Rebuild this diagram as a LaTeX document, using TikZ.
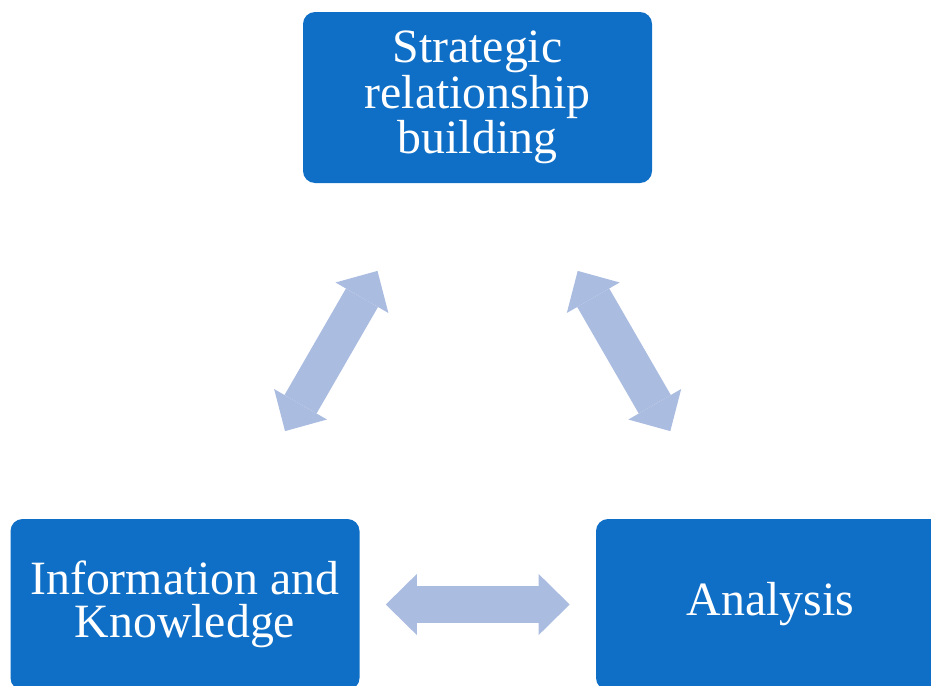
\documentclass[tikz,border=0pt]{standalone}
\usepackage{fontspec}
\setmainfont{Liberation Serif}
\usepackage{xcolor}
\usetikzlibrary{arrows.meta,calc}

\definecolor{boxblue}{HTML}{0F6FC6}
\definecolor{arrowblue}{HTML}{ABBCE1}

\begin{document}
\begin{tikzpicture}[x=0.5pt, y=-0.5pt,
  box/.style={fill=boxblue, rounded corners=6pt, minimum width=174.5pt, minimum height=85.5pt,
    align=center, text=white, font=\fontsize{23.9}{21.5}\selectfont},
  tip/.tip={Triangle[length=15.5pt, width=30.5pt, line width=0pt]},
  arr/.style={tip-tip, draw=arrowblue, line width=18.5pt}]
\clip (0,0) rectangle (931,685);
\node[box] (strat) at (477.5,97.5)  {Strategic\\ relationship\\ building};
\node[box] (info)  at (185,604.5)   {Information and\\ Knowledge};
\node[box] (anal)  at (770.5,604.5) {Analysis};
\draw[arr] ($(strat)!0.342!(info)$) -- ($(strat)!0.658!(info)$);
\draw[arr] ($(strat)!0.342!(anal)$) -- ($(strat)!0.658!(anal)$);
\draw[arr] ($(info)!0.343!(anal)$) -- ($(info)!0.657!(anal)$);
\end{tikzpicture}
\end{document}
